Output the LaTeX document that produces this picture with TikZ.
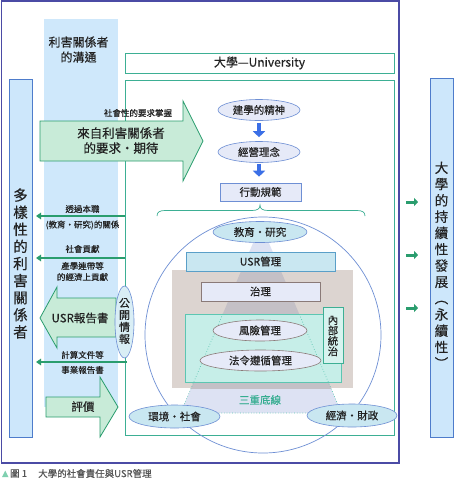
\documentclass[tikz,border=0pt]{standalone}
\usepackage{fontspec}
\setmainfont{Noto Sans CJK TC}[FakeBold=0.4]
\usetikzlibrary{shapes.geometric,arrows.meta}
\definecolor{frameC}{HTML}{4B4BA5}
\definecolor{stripe}{HTML}{CFE8FB}
\definecolor{sideF}{HTML}{CDE7FB}
\definecolor{sideB}{HTML}{4E7CCB}
\definecolor{grn}{HTML}{2A9D6E}
\definecolor{mint}{HTML}{C8EBD8}
\definecolor{univB}{HTML}{3DAF94}
\definecolor{lav}{HTML}{E6EAF8}
\definecolor{ellB}{HTML}{6E8FD4}
\definecolor{blueA}{HTML}{3B6FE6}
\definecolor{cyanF}{HTML}{C9E7F1}
\definecolor{usrB}{HTML}{5A9FC8}
\definecolor{taupe}{HTML}{DCD4D0}
\definecolor{trapG}{HTML}{C4C0C6}
\definecolor{trapL}{HTML}{DDE2F3}
\definecolor{tealF}{HTML}{C6EEE8}
\definecolor{tealB}{HTML}{5CC6B2}
\definecolor{brB}{HTML}{8A7A78}
\definecolor{txt}{HTML}{222222}
\definecolor{capT}{HTML}{7FD0B0}
\definecolor{capC}{HTML}{555555}
\definecolor{sanC}{HTML}{35AD90}
\newcommand\myfs[2]{\fontsize{#1}{#2}\selectfont}
\tikzset{
  every node/.style={text=txt, inner sep=0pt},
  sidebox/.style={draw=sideB, fill=sideF, line width=1pt},
  lavell/.style={ellipse, draw=ellB, fill=lav, line width=0.6pt, font=\myfs{10.5pt}{12pt}},
  cyanell/.style={ellipse, draw=ellB, fill=cyanF, line width=0.6pt, font=\myfs{10.5pt}{12pt}},
  brell/.style={ellipse, draw=brB, fill=lav, line width=0.6pt, font=\myfs{10.5pt}{12pt}},
  blockarrow/.style={draw=grn, fill=mint, line width=0.8pt, line join=miter},
  thinarrow/.style={grn, line width=2pt, -{Triangle[length=5pt,width=6.5pt]}},
  downarrow/.style={blueA, line width=4pt, -{Triangle[length=6pt,width=12pt]}},
  rightsmall/.style={grn, line width=3pt, -{Triangle[length=4pt,width=8pt]}},
  smalllab/.style={font=\myfs{8.5pt}{10pt}},
}
\begin{document}
\begin{tikzpicture}[x=1pt,y=-1pt]
\useasboundingbox (0,0) rectangle (456,480);
\fill[white] (0,0) rectangle (456,480);
% outer frame
\draw[frameC, line width=1.2pt] (1.5,1) rectangle (399,463);
% stakeholder communication stripe
\fill[stripe] (44,19) rectangle (118,407);
\node[font=\myfs{12pt}{15pt}, align=center] (commT) at (78.5,49.5) {利害關係者\\的溝通};
% side boxes
\node[sidebox, minimum width=23pt, minimum height=358pt] (stake) at (20.5,258) {};
\node[font=\myfs{14.5pt}{17.1pt}, align=center] (stakeT) at (20.5,263.5) {多\\樣\\性\\的\\利\\害\\關\\係\\者};
\node[sidebox, minimum width=23pt, minimum height=359pt] (sust) at (441.5,257.5) {};
\node[font=\myfs{13.5pt}{16.3pt}, align=center] (sustT) at (441.5,265) {大\\學\\的\\持\\續\\性\\發\\展\\︵\\永\\續\\性\\︶};
% university boxes
\node[draw=univB, line width=0.9pt, fill=white, minimum width=269pt, minimum height=20pt, font=\myfs{12pt}{14pt}] (utitle) at (259.5,63) {大學—University};
\node[draw=univB, line width=0.9pt, minimum width=269pt, minimum height=355pt] (univ) at (259.5,257.5) {};
% circle
\draw[ellB, line width=0.7pt] (263,335) circle[radius=118];
% trapezoid
\coordinate (tl) at (253.5,242);
\coordinate (tr) at (268.5,242);
\coordinate (bl) at (180.5,413);
\coordinate (br) at (341.5,413);
\coordinate (ml) at (222.8,314);
\coordinate (mr) at (299.2,314);
\fill[trapL] (tl) -- (tr) -- (br) -- (bl) -- cycle;
\fill[taupe] (172,270) rectangle (353,388);
\begin{scope}
\clip (172,270) rectangle (353,388);
\fill[trapG] (tl) -- (tr) -- (br) -- (bl) -- cycle;
\end{scope}
\node[draw=tealB, fill=tealF, line width=0.8pt, minimum width=156pt, minimum height=68pt] (ictl) at (263,348) {};
\draw[tealB, dotted, line width=0.7pt] (ml) -- (bl) -- (br) -- (mr);
% inner nodes
\node[draw=usrB, fill=cyanF, line width=0.7pt, minimum width=149pt, minimum height=19pt, font=\myfs{10.5pt}{12pt}] (usr) at (260.5,261.5) {USR管理};
\node[draw=brB, fill=lav, line width=0.8pt, minimum width=119pt, minimum height=19pt, font=\myfs{10.5pt}{12pt}] (gov) at (260.5,291.5) {治理};
\node[brell, minimum width=94pt, minimum height=21pt] (risk) at (260,330.5) {風險管理};
\node[brell, minimum width=121pt, minimum height=21pt] (comp) at (260.5,360.5) {法令遵循管理};
\node[draw=univB, fill=tealF!70!white, line width=0.8pt, minimum width=20pt, minimum height=56pt] (icbox) at (333,335) {};
\node[font=\myfs{10.5pt}{10.4pt}, align=center] (icT) at (333,336) {內\\部\\統\\治};
\node[font=\myfs{10.5pt}{12pt}, text=sanC] (tbl) at (260,400) {三重底線};
\node[cyanell, minimum width=94pt, minimum height=21pt] (edu) at (260,232) {教育・研究};
\node[cyanell, minimum width=91pt, minimum height=23pt] (env) at (174.5,416.5) {環境・社會};
\node[cyanell, minimum width=90pt, minimum height=23pt] (eco) at (352,415.5) {經濟・財政};
% brace
\draw[univB, line width=0.7pt] (157,216) .. controls (157,212) and (160,210.5) .. (165,210.5) -- (252,210.5) .. controls (257,210.5) and (260,209) .. (260,205) .. controls (260,209) and (263,210.5) .. (268,210.5) -- (357,210.5) .. controls (362,210.5) and (365,212) .. (365,216);
% top chain
\node[lavell, minimum width=82pt, minimum height=21pt] (spirit) at (259,110) {建學的精神};
\node[lavell, minimum width=82pt, minimum height=21pt] (idea) at (259,152) {經營理念};
\node[draw=ellB, fill=lav, line width=0.6pt, minimum width=81pt, minimum height=18pt, font=\myfs{10.5pt}{12pt}] (norm) at (260.5,192) {行動規範};
\draw[downarrow, shorten <=2pt, shorten >=4pt] (spirit.south) -- (idea.north);
\draw[downarrow, shorten <=1pt, shorten >=6pt] (idea.south) -- (norm.north -| idea.south);
% big request arrow
\draw[blockarrow] (40,121) -- (183,121) -- (183,101) -- (203,141) -- (183,181) -- (183,161) -- (40,161) -- cycle;
\node[font=\myfs{12.5pt}{15pt}, align=center] (reqT) at (121,140.5) {來自利害關係者\\的要求・期待};
\node[smalllab] (reqL) at (138,113) {社會性的要求掌握};
% thin arrows
\coordinate (a1s) at (125,216); \coordinate (a1e) at (36,216);
\coordinate (a2s) at (125,258); \coordinate (a2e) at (36,258);
\coordinate (a3s) at (127,362); \coordinate (a3e) at (36,362);
\draw[thinarrow] (a1s) -- (a1e);
\draw[thinarrow] (a2s) -- (a2e);
\draw[thinarrow] (a3s) -- (a3e);
\node[smalllab] (l1a) at (82.5,209) {透過本職};
\node[smalllab] (l1b) at (82.5,225) {(教育・研究)的關係};
\node[smalllab] (l2a) at (82.5,249) {社會貢獻};
\node[smalllab] (l2b) at (82.5,266) {產學連帶等};
\node[smalllab] (l2c) at (82.5,277) {的經濟上貢獻};
\node[smalllab] (l3a) at (82.5,355) {計算文件等};
\node[smalllab] (l3b) at (82.5,370) {事業報告書};
% USR report arrow
\draw[blockarrow] (116,298) -- (57,298) -- (57,287) -- (40,318) -- (57,348) -- (57,337) -- (116,337) -- cycle;
\node[font=\myfs{11.5pt}{13pt}] (repT) at (80,318) {USR報告書};
% public info ellipse
\node[ellipse, draw=ellB, fill=cyanF!70!white, line width=0.6pt, minimum width=19pt, minimum height=72pt] (pub) at (124.5,322) {};
\node[font=\myfs{11pt}{12pt}, align=center] (pubT) at (124.5,321) {公\\開\\情\\報};
% evaluation arrow
\draw[blockarrow] (46,397) -- (100,397) -- (100,377) -- (118,407) -- (100,437) -- (100,417) -- (46,417) -- cycle;
\node[font=\myfs{11.5pt}{13pt}] (evalT) at (83,406.5) {評價};
% small right arrows
\coordinate (s1a) at (406,202); \coordinate (s1b) at (418,202);
\coordinate (s2a) at (406,255); \coordinate (s2b) at (418,255);
\coordinate (s3a) at (406,308); \coordinate (s3b) at (418,308);
\draw[rightsmall] (s1a) -- (s1b);
\draw[rightsmall] (s2a) -- (s2b);
\draw[rightsmall] (s3a) -- (s3b);
% caption
\fill[capT] (2,477) -- (8.5,477) -- (5.25,470.5) -- cycle;
\node[anchor=west, font=\myfs{9.5pt}{11pt}, text=capC] (capN) at (10,473.5) {圖 1};
\node[anchor=west, font=\myfs{9.5pt}{11pt}, text=capC] (capX) at (38,473.5) {大學的社會責任與USR管理};
\end{tikzpicture}
\end{document}
